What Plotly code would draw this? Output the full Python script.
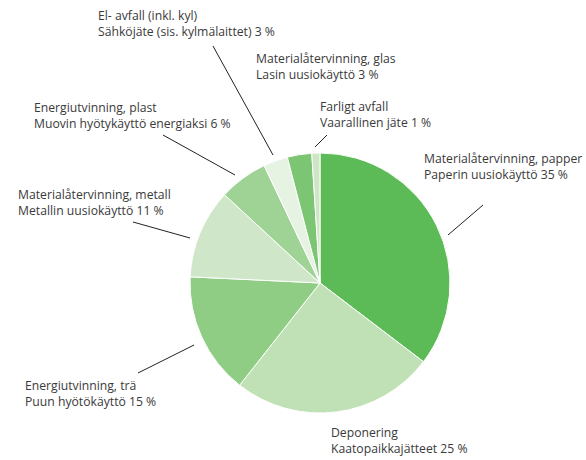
import plotly.graph_objects as go

W, H = 586, 460

labels_sv = ["Materialåtervinning, papper", "Deponering", "Energiutvinning, trä",
             "Materialåtervinning, metall", "Energiutvinning, plast",
             "El- avfall (inkl. kyl)", "Materialåtervinning, glas", "Farligt avfall"]
labels_fi = ["Paperin uusiokäyttö", "Kaatopaikkajätteet", "Puun hyötökäyttö",
             "Metallin uusiokäyttö", "Muovin hyötykäyttö energiaksi",
             "Sähköjäte (sis. kylmälaittet)", "Lasin uusiokäyttö", "Vaarallinen jäte"]
values = [35, 25, 15, 11, 6, 3, 3, 1]
colors = ["#5dbb57", "#c0e1b6", "#8fcd84", "#cfe7c8", "#9fd395", "#e6f3e2", "#7cc573", "#cde7c6"]

# label layout (pixel positions: left x, centre y of the two-line block)
label_pos = [(422, 166.5), (329, 440.5), (23, 393.5), (16, 202),
             (32, 115), (96, 23.5), (254, 66), (318, 114.5)]
# leader lines in pixels (x0, y0, x1, y1); None = no line
leaders = [(448, 235, 483, 205), None, (138, 373, 194, 345), (133, 222, 190, 238),
           (163, 135, 235, 175), (213, 46, 273, 155), None, (315, 147, 327, 135)]

def px(x):
    return x / W

def py(y):
    return 1 - y / H

cx, cy, r = 320, 283, 130

fig = go.Figure(go.Pie(
    values=values,
    labels=[f"{a} / {b}" for a, b in zip(labels_sv, labels_fi)],
    marker=dict(colors=colors, line=dict(color="white", width=1)),
    sort=False, direction="clockwise", rotation=0,
    textinfo="none", hoverinfo="label+value",
    domain=dict(x=[px(cx - r), px(cx + r)], y=[py(cy + r), py(cy - r)]),
    showlegend=False,
))

font = dict(family="Open Sans", size=12.2, color="#3a3a3a")
annotations = []
for sv, fi, v, (x, yc) in zip(labels_sv, labels_fi, values, label_pos):
    annotations.append(dict(x=px(x), y=py(yc), xref="paper", yref="paper",
                            text=f"{sv}<br>{fi} {v} %", align="left",
                            showarrow=False, xanchor="left", yanchor="middle", font=font))

shapes = []
for ld in leaders:
    if ld is None:
        continue
    x0, y0, x1, y1 = ld
    shapes.append(dict(type="line", xref="paper", yref="paper",
                       x0=px(x0), y0=py(y0), x1=px(x1), y1=py(y1),
                       line=dict(color="#222222", width=1)))

fig.update_layout(width=W, height=H, margin=dict(l=0, r=0, t=0, b=0),
                  paper_bgcolor="white", plot_bgcolor="white",
                  annotations=annotations, shapes=shapes)

fig.write_html("out.html", config={"displayModeBar": False},
               post_script="document.body.style.margin='0';document.body.style.overflow='hidden';")
